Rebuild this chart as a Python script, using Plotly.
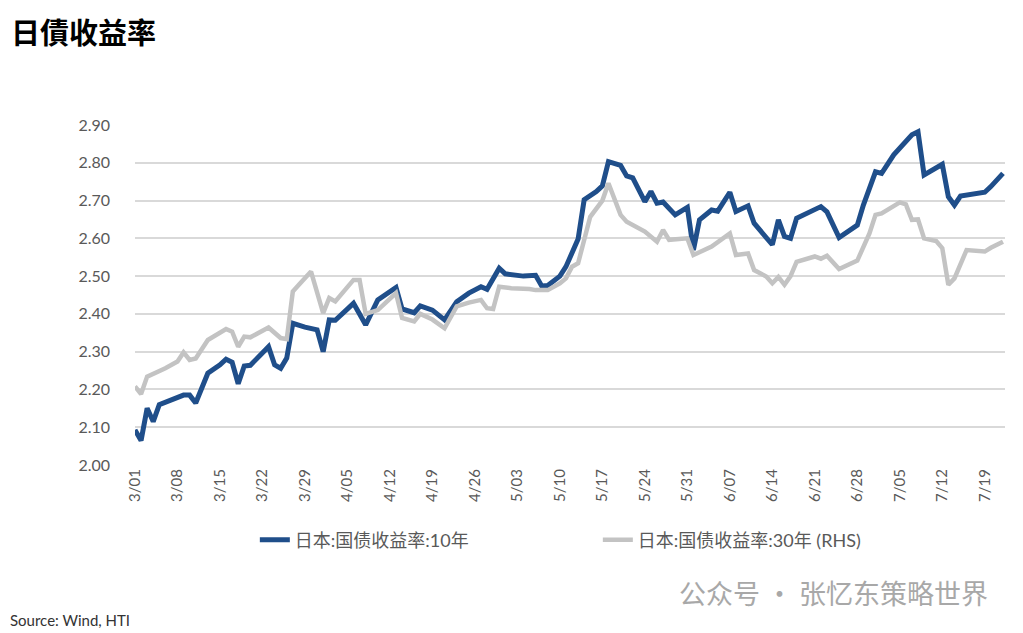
import pandas as pd
import plotly.graph_objects as go

# 日本 10年 国债收益率
dates_10y = [
    "03-01", "03-02", "03-03", "03-04", "03-05", "03-06", "03-09", "03-10", "03-11", "03-13",
    "03-15", "03-16", "03-17", "03-18", "03-19", "03-20", "03-23", "03-24", "03-25", "03-26",
    "03-27", "03-29", "03-31", "04-01", "04-02", "04-03", "04-06", "04-08", "04-10", "04-13",
    "04-14", "04-16", "04-17", "04-19", "04-21", "04-23", "04-25", "04-27", "04-28", "04-30",
    "05-01", "05-04", "05-06", "05-07", "05-08", "05-10", "05-11", "05-13", "05-14", "05-16",
    "05-17", "05-18", "05-20", "05-21", "05-22", "05-24", "05-25", "05-26", "05-27", "05-29",
    "05-31", "06-01", "06-02", "06-04", "06-05", "06-07", "06-08", "06-10", "06-11", "06-14",
    "06-15", "06-16", "06-17", "06-18", "06-22", "06-23", "06-25", "06-28", "06-29", "07-01",
    "07-02", "07-04", "07-07", "07-08", "07-09", "07-12", "07-13", "07-14", "07-15", "07-19",
    "07-20", "07-22",
]
yld_10y = [
    2.093, 2.065, 2.150, 2.115, 2.160, 2.167, 2.185, 2.185, 2.164, 2.243,
    2.265, 2.280, 2.272, 2.215, 2.262, 2.264, 2.313, 2.265, 2.256, 2.283,
    2.375, 2.365, 2.358, 2.300, 2.384, 2.383, 2.428, 2.371, 2.437, 2.470,
    2.413, 2.403, 2.421, 2.410, 2.384, 2.432, 2.455, 2.472, 2.465, 2.521,
    2.506, 2.500, 2.502, 2.474, 2.475, 2.500, 2.525, 2.598, 2.702, 2.724,
    2.739, 2.803, 2.793, 2.765, 2.760, 2.697, 2.724, 2.693, 2.696, 2.662,
    2.682, 2.569, 2.649, 2.675, 2.672, 2.722, 2.671, 2.686, 2.640, 2.583,
    2.649, 2.605, 2.600, 2.653, 2.684, 2.670, 2.602, 2.635, 2.688, 2.776,
    2.772, 2.821, 2.874, 2.882, 2.768, 2.796, 2.710, 2.688, 2.712, 2.722,
    2.737, 2.772,
]

# 日本 30年 国债收益率 (RHS)
dates_30y = [
    "03-01", "03-02", "03-03", "03-05", "03-06", "03-08", "03-09", "03-10", "03-11", "03-13",
    "03-15", "03-16", "03-17", "03-18", "03-19", "03-20", "03-23", "03-25", "03-26", "03-27",
    "03-28", "03-30", "04-01", "04-02", "04-03", "04-06", "04-07", "04-08", "04-10", "04-13",
    "04-14", "04-16", "04-17", "04-19", "04-21", "04-23", "04-25", "04-27", "04-28", "04-29",
    "04-30", "05-02", "05-05", "05-06", "05-08", "05-10", "05-11", "05-12", "05-13", "05-15",
    "05-17", "05-18", "05-20", "05-21", "05-24", "05-26", "05-27", "05-28", "05-31", "06-01",
    "06-04", "06-07", "06-08", "06-10", "06-11", "06-13", "06-14", "06-15", "06-16", "06-17",
    "06-18", "06-21", "06-22", "06-23", "06-25", "06-28", "06-30", "07-01", "07-02", "07-05",
    "07-06", "07-07", "07-08", "07-09", "07-11", "07-12", "07-13", "07-14", "07-16", "07-19",
    "07-20", "07-22",
]
yld_30y = [
    2.208, 2.188, 2.234, 2.247, 2.256, 2.274, 2.298, 2.278, 2.282, 2.331,
    2.349, 2.360, 2.353, 2.313, 2.340, 2.338, 2.364, 2.336, 2.333, 2.459,
    2.477, 2.512, 2.402, 2.442, 2.433, 2.490, 2.490, 2.400, 2.410, 2.455,
    2.389, 2.380, 2.400, 2.385, 2.362, 2.420, 2.430, 2.437, 2.415, 2.413,
    2.472, 2.468, 2.466, 2.463, 2.463, 2.481, 2.494, 2.525, 2.534, 2.657,
    2.700, 2.746, 2.662, 2.644, 2.618, 2.591, 2.622, 2.596, 2.600, 2.556,
    2.578, 2.613, 2.556, 2.560, 2.516, 2.499, 2.481, 2.498, 2.477, 2.500,
    2.538, 2.552, 2.546, 2.554, 2.519, 2.541, 2.613, 2.662, 2.666, 2.695,
    2.690, 2.649, 2.650, 2.600, 2.593, 2.574, 2.477, 2.494, 2.569, 2.565,
    2.575, 2.591,
]

tick_labels = ["3/01", "3/08", "3/15", "3/22", "3/29", "4/05", "4/12", "4/19", "4/26", "5/03",
               "5/10", "5/17", "5/24", "5/31", "6/07", "6/14", "6/21", "6/28", "7/05", "7/12", "7/19"]
y_ticks = [2.00, 2.10, 2.20, 2.30, 2.40, 2.50, 2.60, 2.70, 2.80, 2.90]

year = "2024-"
x10 = pd.to_datetime([year + d for d in dates_10y])
x30 = pd.to_datetime([year + d for d in dates_30y])
tick_vals = pd.to_datetime([year + t.replace("/", "-") for t in tick_labels])

font_lat = "Lato, 'Noto Sans CJK SC', sans-serif"

# page has an 8px body margin, so the figure is drawn a bit smaller
W, H = 1015, 625
L, R, T, B = 127, 18, 117, 168
pw, ph = W - L - R, H - T - B

fig = go.Figure()

# 30Y drawn first so the 10Y line sits on top
fig.add_trace(go.Scatter(
    x=x30, y=yld_30y,
    name="日本:国债收益率:30年 (RHS)",
    mode="lines",
    line=dict(color="#c3c3c3", width=4.5),
    yaxis="y2",
    legendrank=2,
))
fig.add_trace(go.Scatter(
    x=x10, y=yld_10y,
    name="日本:国债收益率:10年",
    mode="lines",
    line=dict(color="#1f4e8a", width=5),
    legendrank=1,
))

fig.update_layout(
    width=W, height=H,
    margin=dict(l=L, r=R, t=T, b=B),
    plot_bgcolor="white",
    paper_bgcolor="white",
    font=dict(family=font_lat, color="#595959", size=15),
    showlegend=True,
    legend=dict(
        orientation="h",
        x=0.532, xanchor="center",
        y=-75 / ph, yanchor="middle",
        font=dict(size=18, color="#595959"),
        entrywidth=298,
        traceorder="normal",
    ),
    xaxis=dict(
        type="date",
        range=[pd.Timestamp("2024-03-01"), pd.Timestamp("2024-07-22 08:00")],
        tickmode="array",
        tickvals=tick_vals,
        ticktext=tick_labels,
        tickangle=-90,
        tickfont=dict(size=15, color="#595959"),
        showgrid=False,
        showline=False,
        zeroline=False,
        ticks="",
    ),
    yaxis=dict(
        range=[2.0, 2.9],
        tickmode="array",
        tickvals=y_ticks,
        tickformat=".2f",
        tickfont=dict(size=16, color="#595959"),
        showgrid=True,
        gridcolor="#d9d9d9",
        gridwidth=1.5,
        zeroline=False,
        showline=False,
        ticks="",
        ticklabelstandoff=24,
    ),
    yaxis2=dict(
        range=[2.0, 2.9],
        overlaying="y",
        side="right",
        showticklabels=False,
        showgrid=False,
        zeroline=False,
        showline=False,
    ),
)

fig.add_annotation(
    text="日債收益率", xref="paper", yref="paper",
    x=-(L - 1) / pw, y=1 + T / ph, xanchor="left", yanchor="top",
    showarrow=False,
    font=dict(family="'Noto Sans CJK SC', sans-serif", size=29, color="#000000", weight="bold"),
)
fig.add_annotation(
    text="公众号 · 张忆东策略世界", xref="paper", yref="paper",
    x=(982 - L) / pw, y=-(584 - (H - B)) / ph, xanchor="right", yanchor="middle",
    showarrow=False,
    font=dict(family="'Noto Sans CJK SC', sans-serif", size=27, color="#a8a8a8"),
)
fig.add_annotation(
    text="Source: Wind, HTI", xref="paper", yref="paper",
    x=-L / pw, y=-(612 - (H - B)) / ph, xanchor="left", yanchor="middle",
    showarrow=False,
    font=dict(family=font_lat, size=15, color="#333333"),
)

fig.write_html("out.html")
